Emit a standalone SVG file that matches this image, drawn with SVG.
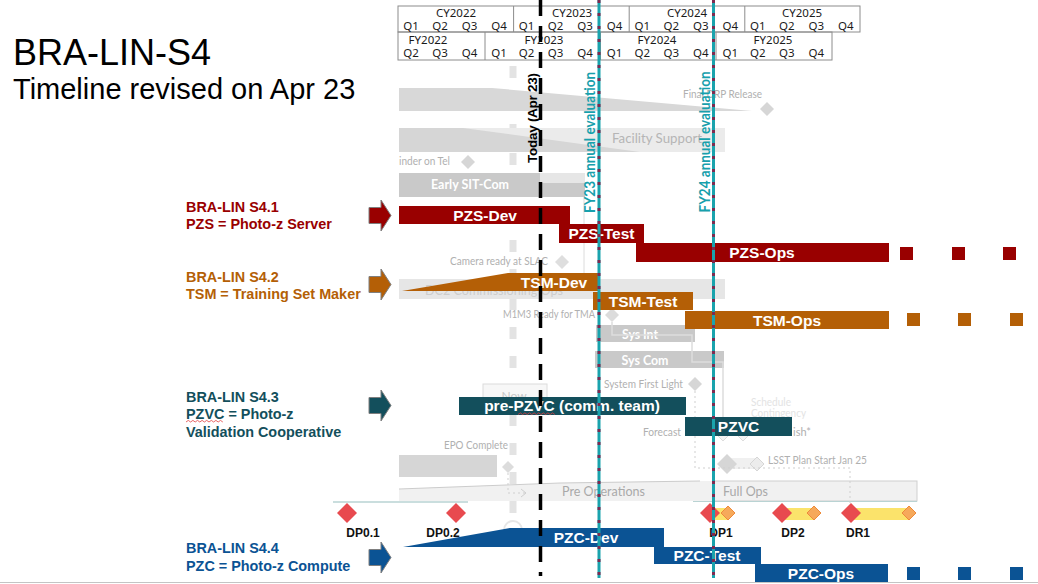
<svg xmlns="http://www.w3.org/2000/svg" width="1038" height="584" viewBox="0 0 1038 584">
<defs>
<style>
.hdr{font-family:"Noto Sans","Liberation Sans",sans-serif;font-size:11.5px;fill:#1a1a1a;text-anchor:middle}
.grid{fill:none;stroke:#8c8c8c;stroke-width:1}
.faint{font-family:Lato,"Open Sans",sans-serif;font-size:11px;fill:#b0b0b0}
.gtxt{font-family:Lato,"Open Sans",sans-serif;font-weight:bold;font-size:13px;fill:#fff;text-anchor:middle}
.bar{font-family:"Liberation Sans",Arial,sans-serif;font-weight:bold;font-size:15.5px;fill:#fff;text-anchor:middle}
.lbl{font-family:"Liberation Sans",Arial,sans-serif;font-weight:bold;font-size:14.4px}
.ms{font-family:"Liberation Sans",Arial,sans-serif;font-weight:bold;font-size:12px;fill:#111;text-anchor:middle}
.pzs{fill:#990000}
.tsm{fill:#b45f06}
.pzvc{fill:#134f5c}
.pzc{fill:#0b5394}
.gd{fill:#d6d6d6}
.red{fill:#e84a4f}
.org{fill:#f6a95b;stroke:#ee8a3a;stroke-width:1}
.yel{fill:#fbe36b}
.arw{stroke:#7f7f7f;stroke-width:1}
.teal{stroke:#1aa3ad;stroke-width:3}
.tealdot{stroke:#7d2a50;stroke-width:3;stroke-dasharray:3 10}
.rot{font-family:Lato,"Open Sans",sans-serif;font-weight:bold;font-size:14.5px;fill:#17a0ac;text-anchor:middle}
</style>
<path id="blockArrow" d="M0,-8 H12 V-15.5 L22,0 L12,15.5 V8 H0 Z"/>
</defs>
<rect width="1038" height="584" fill="#fff"/>

<!-- title -->
<g id="title" font-family="'Liberation Sans',Arial,sans-serif" fill="#000">
<text x="13" y="65" font-size="36">BRA-LIN-S4</text>
<text x="13" y="99" font-size="29">Timeline revised on Apr 23</text>
</g>

<!-- calendar / fiscal year header -->
<g id="header">
<rect class="grid" x="398" y="6" width="462" height="26"/>
<line class="grid" x1="513.6" y1="6" x2="513.6" y2="32"/>
<line class="grid" x1="629.2" y1="6" x2="629.2" y2="32"/>
<line class="grid" x1="744.8" y1="6" x2="744.8" y2="32"/>
<rect class="grid" x="398" y="32" width="434" height="28"/>
<line class="grid" x1="485" y1="32" x2="485" y2="60"/>
<line class="grid" x1="600.5" y1="32" x2="600.5" y2="60"/>
<line class="grid" x1="716" y1="32" x2="716" y2="60"/>
<text class="hdr" x="456" y="17">CY2022</text>
<text class="hdr" x="572" y="17">CY2023</text>
<text class="hdr" x="687" y="17">CY2024</text>
<text class="hdr" x="802" y="17">CY2025</text>
<g>
<text class="hdr" x="411" y="29.5">Q1</text><text class="hdr" x="440" y="29.5">Q2</text><text class="hdr" x="469.5" y="29.5">Q3</text><text class="hdr" x="499" y="29.5">Q4</text>
<text class="hdr" x="526.6" y="29.5">Q1</text><text class="hdr" x="555.6" y="29.5">Q2</text><text class="hdr" x="585.1" y="29.5">Q3</text><text class="hdr" x="614.6" y="29.5">Q4</text>
<text class="hdr" x="642.2" y="29.5">Q1</text><text class="hdr" x="671.2" y="29.5">Q2</text><text class="hdr" x="700.7" y="29.5">Q3</text><text class="hdr" x="730.2" y="29.5">Q4</text>
<text class="hdr" x="757.8" y="29.5">Q1</text><text class="hdr" x="786.8" y="29.5">Q2</text><text class="hdr" x="816.3" y="29.5">Q3</text><text class="hdr" x="845.8" y="29.5">Q4</text>
</g>
<text class="hdr" x="428" y="43.5">FY2022</text>
<text class="hdr" x="544" y="43.5">FY2023</text>
<text class="hdr" x="657" y="43.5">FY2024</text>
<text class="hdr" x="773" y="43.5">FY2025</text>
<g>
<text class="hdr" x="411" y="57">Q2</text><text class="hdr" x="440" y="57">Q3</text><text class="hdr" x="469.5" y="57">Q4</text>
<text class="hdr" x="499" y="57">Q1</text><text class="hdr" x="526.6" y="57">Q2</text><text class="hdr" x="555.6" y="57">Q3</text><text class="hdr" x="585.1" y="57">Q4</text>
<text class="hdr" x="614.6" y="57">Q1</text><text class="hdr" x="642.2" y="57">Q2</text><text class="hdr" x="671.2" y="57">Q3</text><text class="hdr" x="700.7" y="57">Q4</text>
<text class="hdr" x="730.2" y="57">Q1</text><text class="hdr" x="757.8" y="57">Q2</text><text class="hdr" x="786.8" y="57">Q3</text><text class="hdr" x="816.3" y="57">Q4</text>
</g>
</g>

<!-- faded project schedule underneath -->
<line x1="513" y1="66" x2="513" y2="545" stroke="#e3e3e3" stroke-width="7" stroke-dasharray="12 17"/>
<line x1="584" y1="183" x2="584" y2="279" stroke="#dcdcdc" stroke-width="1"/>

<g id="final-drp">
<polygon points="399,88 492,88 752,111 399,111" fill="#d8d8d8"/>
<text class="faint" x="683" y="98" textLength="79" lengthAdjust="spacingAndGlyphs">Final DRP Release</text>
<polygon class="gd" points="767,102 774,109 767,116 760,109"/>
</g>
<g id="facility-support">
<rect x="399" y="128" width="326" height="24" fill="#ebebeb"/>
<polygon points="399,128 463,128 640,152 399,152" fill="#d6d6d6"/>
<text x="612" y="143" font-family="Lato,'Open Sans',sans-serif" font-size="14" fill="#b5b5b5" textLength="90" lengthAdjust="spacingAndGlyphs">Facility Support</text>
</g>
<g id="reminder">
<text class="faint" x="399" y="165" textLength="51" lengthAdjust="spacingAndGlyphs">inder on Tel</text>
<polygon class="gd" points="468,155 475,162 468,169 461,162"/>
</g>
<g id="early-sit-com">
<rect x="399" y="173" width="186" height="24" fill="#c9c9c9"/>
<rect x="540" y="173" width="45" height="10" fill="#e6e6e6"/>
<text class="gtxt" x="470" y="189" textLength="78" lengthAdjust="spacingAndGlyphs">Early SIT-Com</text>
</g>
<g id="camera-ready">
<text class="faint" x="450" y="265" textLength="98" lengthAdjust="spacingAndGlyphs">Camera ready at SLAC</text>
<polygon points="562,255 569,262 562,269 555,262" fill="#dedede"/>
</g>
<g id="dc2-ops">
<rect x="399" y="279" width="326" height="20" fill="#e6e6e6"/>
<text x="425" y="295" font-family="Lato,'Open Sans',sans-serif" font-size="14" fill="#cdcdcd" textLength="138" lengthAdjust="spacingAndGlyphs">DC2 Commissioning Ops</text>
</g>
<g id="m1m3">
<text class="faint" x="503" y="318" textLength="92" lengthAdjust="spacingAndGlyphs">M1M3 Ready for TMA</text>
<polygon points="612,308 619,315 612,322 605,315" fill="#dcdcdc"/>
</g>
<g id="sys-int">
<rect x="596" y="325" width="99" height="17" fill="#c9c9c9"/>
<text class="gtxt" x="640" y="339" textLength="36" lengthAdjust="spacingAndGlyphs">Sys Int</text>
</g>
<g id="sys-com">
<rect x="595" y="351" width="129" height="17" fill="#c9c9c9"/>
<text class="gtxt" x="645" y="365" textLength="47" lengthAdjust="spacingAndGlyphs">Sys Com</text>
</g>
<g id="first-light">
<text class="faint" x="604" y="388" textLength="79" lengthAdjust="spacingAndGlyphs">System First Light</text>
<polygon class="gd" points="695,377 702,384 695,391 688,384"/>
</g>
<g id="contingency" font-family="Lato,'Open Sans',sans-serif" font-size="12" fill="#e3e3e3">
<text x="751" y="406" textLength="40" lengthAdjust="spacingAndGlyphs">Schedule</text>
<text x="751" y="417" textLength="55" lengthAdjust="spacingAndGlyphs">Contingency</text>
</g>
<g id="forecast">
<text class="faint" x="643" y="436" textLength="38" lengthAdjust="spacingAndGlyphs">Forecast</text>
<text class="faint" x="793" y="436">ish*</text>
<polygon points="723,429 729,435 723,441 717,435" fill="#f4f4f4" stroke="#dddddd"/>
<polygon points="743,429 749,435 743,441 737,435" fill="#f4f4f4" stroke="#dddddd"/>
</g>
<g id="lsst-plan">
<rect x="727" y="458" width="30" height="11" fill="#f0f0f0"/>
<polygon class="gd" points="727,454 737,464 727,474 717,464"/>
<polygon points="757,457 764,464 757,471 750,464" fill="#ececec" stroke="#d6d6d6"/>
<text class="faint" x="768" y="464" font-size="11.5" textLength="99" lengthAdjust="spacingAndGlyphs">LSST Plan Start Jan 25</text>
</g>
<g id="epo">
<text class="faint" x="444" y="449" textLength="64" lengthAdjust="spacingAndGlyphs">EPO Complete</text>
<rect class="gd" x="399" y="455" width="98" height="22"/>
<polygon points="508,461 514,467 508,473 502,467" fill="#dcdcdc"/>
</g>
<g id="now">
<rect x="483" y="384" width="64" height="14" fill="#f7f7f7" stroke="#dcdcdc"/>
<text x="514" y="400" font-family="Lato,'Open Sans',sans-serif" font-size="12" fill="#c8c8c8" text-anchor="middle">Now</text>
</g>
<g id="operations">
<polygon points="399,489 560,483 700,481 917,481 917,501 399,501" fill="#f1f1f1"/>
<polyline points="399,489 560,483 700,481" fill="none" stroke="#cccccc"/>
<rect x="714" y="481" width="203" height="20" fill="none" stroke="#cfcfcf"/>
<text x="562" y="496" font-family="Lato,'Open Sans',sans-serif" font-size="13" fill="#a9a9a9" textLength="83" lengthAdjust="spacingAndGlyphs">Pre Operations</text>
<text x="723" y="496" font-family="Lato,'Open Sans',sans-serif" font-size="13" fill="#a9a9a9" textLength="45" lengthAdjust="spacingAndGlyphs">Full Ops</text>
<line x1="333" y1="502" x2="468" y2="502" stroke="#b9d3d3" stroke-width="1.5"/>
<line x1="693" y1="501.5" x2="917" y2="501.5" stroke="#b9d3d3" stroke-width="1"/>
</g>
<circle cx="513" cy="530" r="9" fill="none" stroke="#e6e6e6" stroke-width="2"/>

<!-- faint dependency links -->
<g id="connectors" fill="none">
<polyline points="612,322 612,335 692,335 692,362 723,362 723,429" stroke="#dddddd" stroke-width="1.5"/>
<path d="M695,391 V468 H850 V503" stroke="#cfcfcf" stroke-width="1" stroke-dasharray="2 3"/>
<path d="M508,473 V493 H525" stroke="#cfcfcf" stroke-width="1" stroke-dasharray="2 3"/>
<polyline points="521,489 526,493 521,497" stroke="#cfcfcf" stroke-width="1"/>
</g>

<!-- milestones -->
<g id="milestones">
<rect class="yel" x="710" y="508" width="18" height="12"/>
<rect class="yel" x="782" y="508" width="32" height="12"/>
<rect class="yel" x="851" y="508" width="58" height="12"/>
<g id="dp01"><polygon class="red" points="347,503 357,513 347,523 337,513"/><text class="ms" x="363" y="537">DP0.1</text></g>
<g id="dp02"><polygon class="red" points="456,503 466,513 456,523 446,513"/><text class="ms" x="443" y="537">DP0.2</text></g>
<g id="dp1"><polygon class="red" points="710,503 720,513 710,523 700,513"/><polygon class="org" points="728,506 735,513 728,520 721,513"/><text class="ms" x="721" y="537">DP1</text></g>
<g id="dp2"><polygon class="red" points="782,503 792,513 782,523 772,513"/><polygon class="org" points="814,506 821,513 814,520 807,513"/><text class="ms" x="793" y="537">DP2</text></g>
<g id="dr1"><polygon class="red" points="851,503 861,513 851,523 841,513"/><polygon class="org" points="909,506 916,513 909,520 902,513"/><text class="ms" x="858" y="537">DR1</text></g>
</g>

<!-- S4.1 Photo-z Server -->
<g id="pzs-dev"><rect class="pzs" x="399" y="206" width="171" height="18"/><text class="bar" x="485" y="220.5">PZS-Dev</text></g>
<g id="pzs-test"><rect class="pzs" x="559" y="224" width="85" height="19"/><text class="bar" x="601.5" y="239">PZS-Test</text></g>
<g id="pzs-ops"><rect class="pzs" x="636" y="243" width="253" height="19"/><text class="bar" x="762" y="258">PZS-Ops</text></g>
<g id="pzs-continue"><rect class="pzs" x="900" y="247" width="13" height="13"/><rect class="pzs" x="952" y="247" width="13" height="13"/><rect class="pzs" x="1003" y="247" width="13" height="13"/></g>

<!-- S4.2 Training Set Maker -->
<g id="tsm-dev"><polygon class="tsm" points="402,291 508,273 600,273 600,291"/><text class="bar" x="554" y="287.5">TSM-Dev</text></g>
<g id="tsm-test"><rect class="tsm" x="593" y="292" width="100" height="18"/><text class="bar" x="643" y="306.5">TSM-Test</text></g>
<g id="tsm-ops"><rect class="tsm" x="685" y="311" width="204" height="18"/><text class="bar" x="787" y="325.5">TSM-Ops</text></g>
<g id="tsm-continue"><rect class="tsm" x="907" y="313" width="13" height="13"/><rect class="tsm" x="958" y="313" width="13" height="13"/><rect class="tsm" x="1010" y="313" width="13" height="13"/></g>

<!-- S4.3 Photo-z Validation Cooperative -->
<g id="pre-pzvc"><rect class="pzvc" x="459" y="397" width="227" height="18"/><text class="bar" x="572" y="411" font-size="14.5">pre-PZVC (comm. team)</text>
<path d="M518,414.5 l2.3,-1.6 l2.3,1.6 l2.3,-1.6 l2.3,1.6 l2.3,-1.6 l2.3,1.6 l2.3,-1.6 l2.3,1.6 l2.3,-1.6 l2.3,1.6 l2.3,-1.6 l2.3,1.6 l2.3,-1.6 l2.3,1.6 l2.3,-1.6 l2.3,1.6" fill="none" stroke="#e04040" stroke-width="0.8"/></g>
<g id="pzvc"><rect class="pzvc" x="685" y="417" width="107" height="19"/><text class="bar" x="738.5" y="432">PZVC</text></g>

<!-- S4.4 Photo-z Compute -->
<g id="pzc-dev"><polygon class="pzc" points="403,547 510,528 664,528 664,547"/><text class="bar" x="586" y="543">PZC-Dev</text></g>
<g id="pzc-test"><rect class="pzc" x="654" y="547" width="107" height="17"/><text class="bar" x="707" y="561">PZC-Test</text></g>
<g id="pzc-ops"><rect class="pzc" x="755" y="564" width="133" height="18"/><text class="bar" x="821" y="578.5">PZC-Ops</text></g>
<g id="pzc-continue"><rect class="pzc" x="907" y="567" width="13" height="13"/><rect class="pzc" x="958" y="567" width="13" height="13"/><rect class="pzc" x="1010" y="567" width="13" height="13"/></g>

<!-- reference lines: today and annual evaluations -->
<g id="today">
<line x1="540.5" y1="0" x2="540.5" y2="576" stroke="#000" stroke-width="3.5" stroke-dasharray="16 10"/>
<text transform="translate(537,118) rotate(-90)" text-anchor="middle" font-family="'Liberation Sans',Arial,sans-serif" font-weight="bold" font-size="13.5" textLength="90" fill="#000">Today (Apr 23)</text>
</g>
<g id="fy23-eval">
<line class="teal" x1="599" y1="0" x2="599" y2="578"/>
<line class="tealdot" x1="599" y1="0" x2="599" y2="578"/>
<text class="rot" transform="translate(595,142.5) rotate(-90)" textLength="141" lengthAdjust="spacingAndGlyphs">FY23 annual evaluation</text>
</g>
<g id="fy24-eval">
<line class="teal" x1="713.5" y1="0" x2="713.5" y2="578"/>
<line class="tealdot" x1="713.5" y1="0" x2="713.5" y2="578"/>
<text class="rot" transform="translate(710,142) rotate(-90)" textLength="141" lengthAdjust="spacingAndGlyphs">FY24 annual evaluation</text>
</g>

<line x1="0" y1="582.5" x2="1038" y2="582.5" stroke="#c4c4c4" stroke-width="1"/>

<!-- work package labels -->
<g id="s41">
<text class="lbl pzs" x="186" y="212">BRA-LIN S4.1</text>
<text class="lbl pzs" x="186" y="229">PZS = Photo-z Server</text>
<use href="#blockArrow" class="pzs arw" x="369" y="215.5"/>
</g>
<g id="s42">
<text class="lbl tsm" x="186" y="282">BRA-LIN S4.2</text>
<text class="lbl tsm" x="186" y="299">TSM = Training Set Maker</text>
<use href="#blockArrow" class="tsm arw" x="369" y="284.5"/>
</g>
<g id="s43">
<text class="lbl pzvc" x="186" y="402">BRA-LIN S4.3</text>
<text class="lbl pzvc" x="186" y="419">PZVC = Photo-z</text>
<text class="lbl pzvc" x="186" y="437">Validation Cooperative</text>
<path d="M186,422 l2.3,-1.6 l2.3,1.6 l2.3,-1.6 l2.3,1.6 l2.3,-1.6 l2.3,1.6 l2.3,-1.6 l2.3,1.6 l2.3,-1.6 l2.3,1.6 l2.3,-1.6 l2.3,1.6 l2.3,-1.6 l2.3,1.6 l2.3,-1.6 l2.3,1.6" fill="none" stroke="#e04040" stroke-width="0.8"/>
<use href="#blockArrow" class="pzvc arw" x="369" y="405.5"/>
</g>
<g id="s44">
<text class="lbl pzc" x="186" y="553">BRA-LIN S4.4</text>
<text class="lbl pzc" x="186" y="571">PZC = Photo-z Compute</text>
<use href="#blockArrow" class="pzc arw" x="369" y="557.5"/>
</g>
</svg>
